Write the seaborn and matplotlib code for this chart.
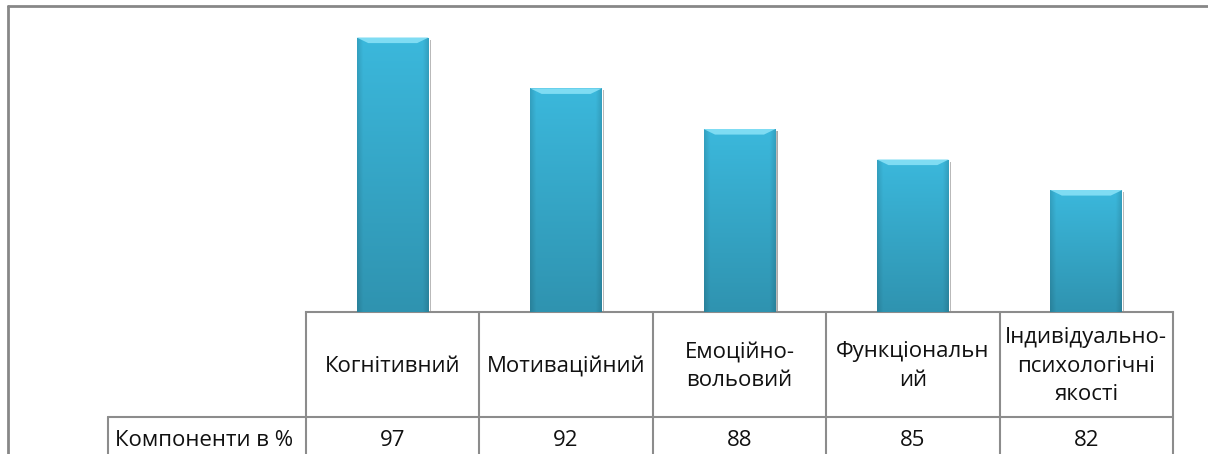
import numpy as np
import pandas as pd
import matplotlib
matplotlib.use("Agg")
import matplotlib.pyplot as plt
import seaborn as sns
import matplotlib.patheffects as pe
from matplotlib.patches import Polygon
from matplotlib.lines import Line2D

# Data
categories = ["Когнітивний", "Мотиваційний", "Емоційно-вольовий",
              "Функціональний", "Індивідуально-психологічні якості"]
header_labels = ["Когнітивний", "Мотиваційний", "Емоційно-\nвольовий",
                 "Функціональн\nий", "Індивідуально-\nпсихологічні\nякості"]
values = [97, 92, 88, 85, 82]
row_label = "Компоненти в %"

df = pd.DataFrame({"component": categories, "value": values})

sns.set_theme(style="white")
plt.rcParams["font.family"] = ["Open Sans", "DejaVu Sans"]

W, H = 1208, 454
fig = plt.figure(figsize=(W / 100, H / 100), dpi=100)
ax = fig.add_axes([306 / W, 1 - 312 / H, 867 / W, 305 / H])

base = "#3bb8dc"
sns.barplot(data=df, x="component", y="value", color=base, width=0.415,
            saturation=1, ax=ax)
ax.set_ylim(70, 100)
ax.set_xlim(-0.5, len(values) - 0.5)
ax.set_xlabel("")
ax.set_ylabel("")
ax.set_xticks([])
ax.set_yticks([])
for s in ["left", "top", "right"]:
    ax.spines[s].set_visible(False)
ax.spines["bottom"].set_color("#8c8c8c")
ax.spines["bottom"].set_linewidth(1.5)

# bevel look for the bars
ymin = ax.get_ylim()[0]
rgb = np.array(matplotlib.colors.to_rgb(base))
ny, nx = 100, 60
vert = np.linspace(1.0, 0.80, ny)[:, None]
xx = np.linspace(0, 1, nx)[None, :]
horiz = 1 - 0.12 * np.clip((np.abs(xx - 0.5) - 0.42) / 0.08, 0, 1)
shade = vert * horiz
img = np.clip(rgb[None, None, :] * shade[:, :, None], 0, 1)

for p in ax.patches:
    x, w, h = p.get_x(), p.get_width(), p.get_height()
    p.set_path_effects([pe.SimplePatchShadow(offset=(1.5, -1.5), shadow_rgbFace="#555555", alpha=0.5),
                        pe.Normal()])
    im = ax.imshow(img, extent=(x, x + w, ymin, h), aspect="auto", zorder=3,
                   interpolation="bilinear")
    im.set_clip_path(p)
    dx, dy = w * 0.16, 0.55
    ax.add_patch(Polygon([(x, h), (x + w, h), (x + w - dx, h - dy), (x + dx, h - dy)],
                         closed=True, facecolor="#7fdcf3", edgecolor="none", zorder=4))
ax.set_xlim(-0.5, len(values) - 0.5)
ax.set_ylim(70, 100)

# data table under the bars
tr = ax.get_xaxis_transform()
line_kw = dict(color="#8c8c8c", linewidth=1.5, clip_on=False)
for i in range(len(values) + 1):
    ax.add_line(Line2D([i - 0.5, i - 0.5], [0, -0.6], transform=tr, **line_kw))
fig.add_artist(Line2D([108 / W, 1173 / W], [1 - 417 / H, 1 - 417 / H], **line_kw))
fig.add_artist(Line2D([108 / W, 108 / W], [1 - 417 / H, 0], **line_kw))

fs = 16
for i, lab in enumerate(header_labels):
    ax.text(i, -(366 - 312) / 305, lab, transform=tr, ha="center", va="center",
            fontsize=fs, linespacing=1.45, color="#111111")
for i, v in enumerate(values):
    ax.text(i, -(441 - 312) / 305, str(v), transform=tr, ha="center", va="center",
            fontsize=fs, color="#111111")
fig.text(115 / W, 1 - 441 / H, row_label, ha="left", va="center", fontsize=fs,
         color="#111111")

# outer chart border
frame_kw = dict(color="#878787", linewidth=2)
fig.add_artist(Line2D([8 / W, 8 / W], [0, 1 - 6 / H], **frame_kw))
fig.add_artist(Line2D([8 / W, 1], [1 - 6 / H, 1 - 6 / H], **frame_kw))

fig.savefig("out.png", dpi=100)
